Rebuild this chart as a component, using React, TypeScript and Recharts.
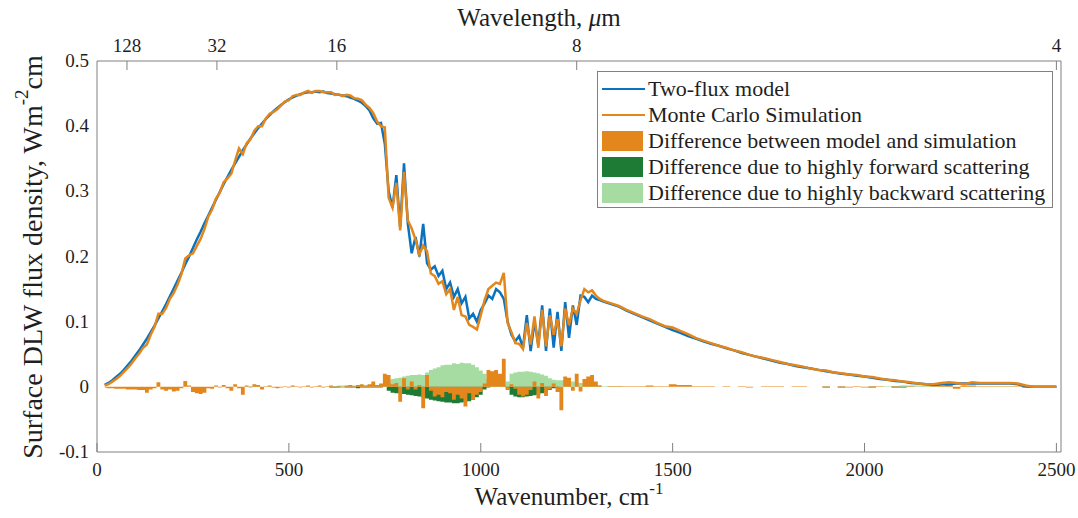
import { ComposedChart, Line, Area, XAxis, YAxis, ReferenceLine } from 'recharts'

const FONT = '"Liberation Serif", "Times New Roman", serif'
const AXIS = '#808080'
const INK = '#1f1f1f'
const BLUE = '#0b72bd'
const ORANGE = '#e3861b'
const DARK_GREEN = '#1e7b35'
const LIGHT_GREEN = '#a6dca1'

// wavenumber grid, cm-1 (10 cm-1 steps up to 1320, then 20 cm-1)
const WN_FINE = [
  20, 30, 40, 50, 60, 70, 80, 90, 100, 110,
  120, 130, 140, 150, 160, 170, 180, 190, 200, 210,
  220, 230, 240, 250, 260, 270, 280, 290, 300, 310,
  320, 330, 340, 350, 360, 370, 380, 390, 400, 410,
  420, 430, 440, 450, 460, 470, 480, 490, 500, 510,
  520, 530, 540, 550, 560, 570, 580, 590, 600, 610,
  620, 630, 640, 650, 660, 670, 680, 690, 700, 710,
  720, 730, 740, 750, 760, 770, 780, 790, 800, 810,
  820, 830, 840, 850, 860, 870, 880, 890, 900, 910,
  920, 930, 940, 950, 960, 970, 980, 990, 1000, 1010,
  1020, 1030, 1040, 1050, 1060, 1070, 1080, 1090, 1100, 1110,
  1120, 1130, 1140, 1150, 1160, 1170, 1180, 1190, 1200, 1210,
  1220, 1230, 1240, 1250, 1260, 1270, 1280, 1290, 1300, 1310,
  1320,
]
const WN_TAIL = [
  1340, 1360, 1380, 1400, 1420, 1440, 1460, 1480, 1500, 1520,
  1540, 1560, 1580, 1600, 1620, 1640, 1660, 1680, 1700, 1720,
  1740, 1760, 1780, 1800, 1820, 1840, 1860, 1880, 1900, 1920,
  1940, 1960, 1980, 2000, 2020, 2040, 2060, 2080, 2100, 2120,
  2140, 2160, 2180, 2200, 2220, 2240, 2260, 2280, 2300, 2320,
  2340, 2360, 2380, 2400, 2420, 2440, 2460, 2480, 2500,
]

// Two-flux model, Wm-2cm
const TWO_FLUX_FINE = [
  0.003, 0.006, 0.010, 0.015, 0.020, 0.026, 0.033, 0.040, 0.048, 0.056,
  0.065, 0.074, 0.084, 0.094, 0.105, 0.116, 0.127, 0.139, 0.151, 0.163,
  0.175, 0.188, 0.200, 0.213, 0.226, 0.238, 0.251, 0.263, 0.275, 0.287,
  0.299, 0.311, 0.322, 0.333, 0.343, 0.353, 0.363, 0.372, 0.381, 0.389,
  0.397, 0.404, 0.411, 0.417, 0.423, 0.428, 0.433, 0.437, 0.441, 0.444,
  0.447, 0.449, 0.451, 0.452, 0.452, 0.453, 0.452, 0.453, 0.451, 0.450,
  0.449, 0.448, 0.447, 0.446, 0.444, 0.442, 0.439, 0.436, 0.431, 0.424,
  0.412, 0.404, 0.405, 0.373, 0.300, 0.275, 0.325, 0.245, 0.343, 0.250,
  0.205, 0.230, 0.200, 0.250, 0.190, 0.180, 0.185, 0.170, 0.178, 0.150,
  0.160, 0.138, 0.150, 0.128, 0.138, 0.105, 0.112, 0.100, 0.118, 0.128,
  0.140, 0.135, 0.150, 0.145, 0.135, 0.100, 0.080, 0.070, 0.078, 0.060,
  0.110, 0.055, 0.100, 0.065, 0.125, 0.055, 0.120, 0.060, 0.115, 0.055,
  0.130, 0.075, 0.125, 0.095, 0.140, 0.138, 0.130, 0.140, 0.135, 0.133,
  0.131,
]
const TWO_FLUX_TAIL = [
  0.127, 0.123, 0.117, 0.112, 0.107, 0.102, 0.097, 0.092, 0.087, 0.083,
  0.078, 0.074, 0.070, 0.066, 0.063, 0.059, 0.056, 0.052, 0.049, 0.046,
  0.043, 0.040, 0.037, 0.035, 0.032, 0.030, 0.028, 0.026, 0.024, 0.022,
  0.020, 0.019, 0.017, 0.016, 0.014, 0.012, 0.011, 0.009, 0.008, 0.006,
  0.005, 0.004, 0.003, 0.004, 0.004, 0.005, 0.005, 0.005, 0.005, 0.005,
  0.005, 0.005, 0.005, 0.004, 0.001, 0, 0, 0, 0,
]

// Monte Carlo simulation
const MONTE_CARLO_FINE = [
  0.002, 0.004, 0.008, 0.012, 0.017, 0.023, 0.029, 0.036, 0.044, 0.051,
  0.060, 0.065, 0.080, 0.092, 0.112, 0.112, 0.121, 0.135, 0.144, 0.157,
  0.173, 0.197, 0.202, 0.205, 0.216, 0.227, 0.242, 0.261, 0.272, 0.289,
  0.298, 0.314, 0.320, 0.327, 0.347, 0.366, 0.357, 0.374, 0.380, 0.393,
  0.400, 0.400, 0.412, 0.419, 0.422, 0.426, 0.432, 0.438, 0.440, 0.446,
  0.448, 0.448, 0.452, 0.454, 0.451, 0.454, 0.454, 0.452, 0.452, 0.452,
  0.448, 0.449, 0.446, 0.448, 0.447, 0.443, 0.442, 0.440, 0.433, 0.428,
  0.420, 0.407, 0.400, 0.398, 0.290, 0.275, 0.313, 0.240, 0.330, 0.255,
  0.243, 0.226, 0.203, 0.217, 0.208, 0.174, 0.170, 0.158, 0.162, 0.142,
  0.150, 0.118, 0.138, 0.110, 0.108, 0.095, 0.092, 0.088, 0.110, 0.133,
  0.150, 0.155, 0.160, 0.158, 0.175, 0.098, 0.084, 0.067, 0.066, 0.058,
  0.098, 0.065, 0.108, 0.060, 0.118, 0.062, 0.110, 0.080, 0.104, 0.062,
  0.120, 0.095, 0.120, 0.112, 0.133, 0.150, 0.145, 0.148, 0.140, 0.135,
  0.132,
]
const MONTE_CARLO_TAIL = [
  0.128, 0.124, 0.118, 0.113, 0.108, 0.104, 0.098, 0.093, 0.091, 0.086,
  0.081, 0.075, 0.071, 0.067, 0.063, 0.060, 0.056, 0.053, 0.049, 0.046,
  0.044, 0.041, 0.038, 0.035, 0.033, 0.031, 0.028, 0.026, 0.025, 0.022,
  0.021, 0.019, 0.018, 0.016, 0.015, 0.013, 0.011, 0.010, 0.008, 0.007,
  0.005, 0.004, 0.004, 0.006, 0.007, 0.006, 0.004, 0.007, 0.006, 0.006,
  0.006, 0.006, 0.006, 0.005, 0.002, 0, 0, 0, 0,
]

// Difference between model and simulation
const DIFF_FINE = [
  -0.001, -0.002, -0.002, -0.003, -0.003, -0.003, -0.004, -0.004, -0.004, -0.005,
  -0.005, -0.009, -0.004, -0.002, 0.007, -0.004, -0.006, -0.004, -0.007, -0.006,
  -0.002, 0.009, 0.002, -0.008, -0.010, -0.011, -0.009, -0.002, -0.003, 0.002,
  -0.001, 0.003, -0.002, -0.006, 0.004, -0.002, -0.012, 0.002, -0.001, 0.004,
  0.003, -0.004, 0.001, 0.002, -0.001, -0.002, -0.001, 0.001, -0.001, 0.002,
  0.001, -0.001, 0.001, 0.002, -0.001, 0.001, 0.002, -0.001, 0.001, 0.002,
  -0.001, 0.001, -0.001, 0.002, 0.003, 0.001, 0.003, 0.004, 0.002, 0.004,
  0.008, 0.003, 0.005, 0.020, 0.018, 0.004, 0.006, -0.023, 0.013, -0.004,
  0.008, -0.004, 0.003, -0.033, 0.018, -0.006, -0.015, -0.012, -0.016, -0.008,
  -0.010, -0.020, -0.012, -0.018, -0.030, -0.010, -0.020, -0.012, -0.008, 0.005,
  0.026, 0.024, 0.026, 0.020, 0.043, -0.005, 0.004, -0.003, -0.012, -0.015,
  -0.012, -0.005, 0.008, -0.018, 0.006, -0.014, -0.004, 0.005, -0.008, -0.036,
  0.016, 0.014, -0.006, 0.020, -0.007, 0.012, 0.016, 0.018, 0.008, 0.002,
  0,
]
const DIFF_TAIL = [
  0.001, 0.001, 0.001, 0.001, 0.001, 0.002, 0.001, 0.001, 0.004, 0.003,
  0.003, 0.001, 0.001, 0.001, 0, 0.001, 0, 0.001, -0.001, 0,
  0.001, 0.001, 0.001, 0, 0.001, 0.001, 0, 0, 0.001, 0,
  0.001, -0.001, 0.001, -0.001, 0.001, 0.001, 0, 0.001, 0, 0.001,
  0, 0, 0.001, 0.002, 0.003, -0.003, 0.002, 0.002, 0.001, 0.001,
  0.001, 0.001, 0.001, 0.001, 0.001, 0, 0, 0, 0,
]

// Difference due to highly forward scattering
const FORWARD_FINE = [
  0, 0, 0, 0, 0, 0, 0, 0, 0, 0,
  0, 0, 0, 0, 0, 0, 0, 0, 0, 0,
  0, 0, 0, 0, 0, 0, 0, 0, 0, 0,
  0, 0, 0, 0, 0, 0, 0, 0, 0, 0,
  0, 0, 0, 0, 0, 0, 0, 0, 0, 0,
  0, 0, 0, 0, 0, 0, 0, 0, 0, -0.001,
  -0.001, -0.001, 0, -0.001, -0.001, -0.001, -0.002, -0.001, -0.001, -0.001,
  -0.001, -0.001, -0.001, 0, -0.006, -0.009, -0.010, -0.010, -0.011, -0.012,
  -0.013, -0.014, -0.015, -0.016, -0.018, -0.020, -0.021, -0.022, -0.023, -0.024,
  -0.024, -0.025, -0.025, -0.024, -0.023, -0.022, -0.020, -0.016, -0.012, -0.004,
  -0.001, 0, 0, 0, 0, -0.002, -0.012, -0.015, -0.016, -0.016,
  -0.015, -0.014, -0.013, -0.012, -0.010, -0.008, -0.005, -0.002, -0.001, 0,
  0, 0, 0, 0, 0, 0, 0, 0, 0, 0,
  0,
]
const FORWARD_TAIL = [
  0, 0, 0, 0, 0, 0, 0, 0, 0, 0,
  0, 0, 0, 0, 0, 0, 0, 0, 0, 0,
  0, 0, 0, 0, 0, 0, 0, 0, -0.001, 0,
  -0.001, 0, 0, 0, -0.001, 0, 0, -0.001, -0.001, 0,
  0, 0, 0, 0, 0, 0, 0, 0, 0, 0,
  0, 0, 0, 0, -0.001, -0.001, -0.001, -0.001, -0.001,
]

// Difference due to highly backward scattering
const BACKWARD_FINE = [
  0, 0, 0, 0, 0, 0, 0, 0, 0, 0,
  0, 0, 0, 0, 0, 0, 0, 0, 0, 0,
  0, 0, 0, 0, 0, 0, 0, 0, 0, 0,
  0, 0, 0, 0, 0, 0, 0, 0, 0.001, 0.001,
  0.001, 0, 0, 0, 0, 0, 0, 0, 0, 0,
  0, 0, 0, 0, 0, 0, 0, 0, 0, 0.001,
  0.001, 0.002, 0.002, 0.001, 0.002, 0.002, 0.002, 0.001, 0.002, 0.002,
  0.002, 0.003, 0.003, 0.004, 0.008, 0.012, 0.013, 0.014, 0.016, 0.017,
  0.018, 0.018, 0.019, 0.018, 0.022, 0.026, 0.028, 0.030, 0.033, 0.034,
  0.034, 0.036, 0.035, 0.037, 0.036, 0.036, 0.034, 0.030, 0.025, 0.020,
  0.012, 0.004, 0.002, 0.002, 0.003, 0.008, 0.020, 0.022, 0.023, 0.023,
  0.024, 0.023, 0.022, 0.021, 0.019, 0.017, 0.013, 0.011, 0.010, 0.010,
  0.011, 0.010, 0.008, 0.007, 0.006, 0.005, 0.004, 0.003, 0.003, 0.002,
  0.001,
]
const BACKWARD_TAIL = [
  0.001, 0.001, 0, 0, 0, 0, 0, 0, 0, 0,
  0, 0, 0, 0, 0, 0, 0, 0, 0, 0,
  0, 0, 0, 0, 0, 0, 0, 0, 0, 0,
  0, 0, 0, 0, 0, 0, 0.001, 0.001, 0.002, 0.002,
  0.002, 0.002, 0.001, 0, 0, 0, 0, 0, 0, 0,
  0, 0, 0, 0, 0, 0, 0, 0, 0,
]

const X_TICKS = [0, 500, 1000, 1500, 2000, 2500]
const Y_TICKS = [-0.1, 0, 0.1, 0.2, 0.3, 0.4, 0.5]
// top axis: wavelength in um, placed at 10000/lambda cm-1
const TOP_TICK_WN = [78.125, 312.5, 625, 1250, 2500]
const TOP_TICK_LABELS = ['128', '32', '16', '8', '4']

const WN = [...WN_FINE, ...WN_TAIL]
const TWO_FLUX = [...TWO_FLUX_FINE, ...TWO_FLUX_TAIL]
const MONTE_CARLO = [...MONTE_CARLO_FINE, ...MONTE_CARLO_TAIL]
const DIFF = [...DIFF_FINE, ...DIFF_TAIL]
const FORWARD = [...FORWARD_FINE, ...FORWARD_TAIL]
const BACKWARD = [...BACKWARD_FINE, ...BACKWARD_TAIL]

const data = WN.map((wn, i) => ({
  wn,
  twoFlux: TWO_FLUX[i],
  mc: MONTE_CARLO[i],
  diff: DIFF[i],
  fwd: FORWARD[i],
  bwd: BACKWARD[i],
}))

const LEGEND = [
  { label: 'Two-flux model', color: BLUE, kind: 'line' },
  { label: 'Monte Carlo Simulation', color: ORANGE, kind: 'line' },
  { label: 'Difference between model and simulation', color: ORANGE, kind: 'patch' },
  { label: 'Difference due to highly forward scattering', color: DARK_GREEN, kind: 'patch' },
  { label: 'Difference due to highly backward scattering', color: LIGHT_GREEN, kind: 'patch' },
]

const X_MAX = 2512

function BottomTick({ x, y, payload }: any) {
  return (
    <g>
      <line x1={x} y1={y} x2={x} y2={y - 9} stroke={AXIS} />
      <text x={x} y={y + 24} textAnchor="middle" fontSize={19} fill={INK} fontFamily={FONT}>
        {payload.value}
      </text>
    </g>
  )
}

function TopTick({ x, y, payload }: any) {
  const label = TOP_TICK_LABELS[TOP_TICK_WN.indexOf(payload.value)]
  return (
    <g>
      <line x1={x} y1={y} x2={x} y2={y + 9} stroke={AXIS} />
      <text x={x} y={y - 9} textAnchor="middle" fontSize={19} fill={INK} fontFamily={FONT}>
        {label}
      </text>
    </g>
  )
}

function LeftTick({ x, y, payload }: any) {
  const v = payload.value
  return (
    <text x={x - 8} y={y + 6} textAnchor="end" fontSize={19} fill={INK} fontFamily={FONT}>
      {v === 0 ? '0' : v.toFixed(1)}
    </text>
  )
}

const xTitle = () => (
  <text x={569} y={505} textAnchor="middle" fontSize={25} fill={INK} fontFamily={FONT}>
    Wavenumber, cm<tspan dy={-11} fontSize={17}>-1</tspan>
  </text>
)

const topTitle = () => (
  <text x={539} y={26} textAnchor="middle" fontSize={25} fill={INK} fontFamily={FONT}>
    Wavelength, <tspan fontStyle="italic">μ</tspan>m
  </text>
)

const yTitle = () => (
  <text
    x={32}
    y={257}
    transform="rotate(-90 32 257)"
    textAnchor="middle"
    dominantBaseline="central"
    fontSize={28}
    fill={INK}
    fontFamily={FONT}
  >
    Surface DLW flux density, Wm<tspan dy={-11} fontSize={19}>-2</tspan>
    <tspan dy={11}>cm</tspan>
  </text>
)

export default function App() {
  return (
    <div style={{ position: 'fixed', left: 0, top: 0, width: 1078, height: 518, background: '#fff' }}>
      <ComposedChart
        width={1078}
        height={518}
        data={data}
        margin={{ top: 31, right: 17, bottom: 26, left: 0 }}
      >
        <XAxis
          xAxisId="bottom"
          dataKey="wn"
          type="number"
          domain={[0, X_MAX]}
          allowDataOverflow
          ticks={X_TICKS}
          interval={0}
          height={40}
          stroke={AXIS}
          tickSize={0}
          tickMargin={0}
          tickLine={false}
          tick={<BottomTick />}
          label={{ content: xTitle }}
        />
        <XAxis
          xAxisId="top"
          orientation="top"
          dataKey="wn"
          type="number"
          domain={[0, X_MAX]}
          allowDataOverflow
          ticks={TOP_TICK_WN}
          interval={0}
          height={30}
          stroke={AXIS}
          tickSize={0}
          tickMargin={0}
          tickLine={false}
          tick={<TopTick />}
          label={{ content: topTitle }}
        />
        <YAxis
          type="number"
          domain={[-0.1, 0.5]}
          allowDataOverflow
          ticks={Y_TICKS}
          interval={0}
          width={97}
          stroke={AXIS}
          tickSize={0}
          tickMargin={0}
          tickLine={false}
          tick={<LeftTick />}
          label={{ content: yTitle }}
        />
        <ReferenceLine xAxisId="bottom" x={X_MAX} stroke={AXIS} ifOverflow="visible" />

        <Area xAxisId="bottom" type="step" dataKey="bwd" baseValue={0} stroke="none" fill={LIGHT_GREEN} fillOpacity={1} dot={false} activeDot={false} isAnimationActive={false} />
        <Area xAxisId="bottom" type="step" dataKey="fwd" baseValue={0} stroke="none" fill={DARK_GREEN} fillOpacity={1} dot={false} activeDot={false} isAnimationActive={false} />
        <Area xAxisId="bottom" type="step" dataKey="diff" baseValue={0} stroke="none" fill={ORANGE} fillOpacity={1} dot={false} activeDot={false} isAnimationActive={false} />

        <Line xAxisId="bottom" type="linear" dataKey="twoFlux" stroke={BLUE} strokeWidth={2.5} dot={false} activeDot={false} isAnimationActive={false} />
        <Line xAxisId="bottom" type="linear" dataKey="mc" stroke={ORANGE} strokeWidth={2.5} dot={false} activeDot={false} isAnimationActive={false} />
      </ComposedChart>

      <div
        style={{
          position: 'absolute',
          left: 597,
          top: 71,
          width: 456,
          height: 137,
          border: `1px solid ${AXIS}`,
          background: '#fff',
          boxSizing: 'border-box',
          paddingTop: 4,
          fontFamily: FONT,
          fontSize: 22,
          color: INK,
        }}
      >
        {LEGEND.map(item => (
          <div key={item.label} style={{ display: 'flex', alignItems: 'center', height: 26, whiteSpace: 'nowrap' }}>
            <div style={{ width: 43, marginLeft: 4, marginRight: 3, display: 'flex', alignItems: 'center' }}>
              {item.kind === 'line' ? (
                <div style={{ width: 43, height: 2.5, background: item.color }} />
              ) : (
                <div style={{ width: 41, height: 20, background: item.color }} />
              )}
            </div>
            <span>{item.label}</span>
          </div>
        ))}
      </div>
    </div>
  )
}
